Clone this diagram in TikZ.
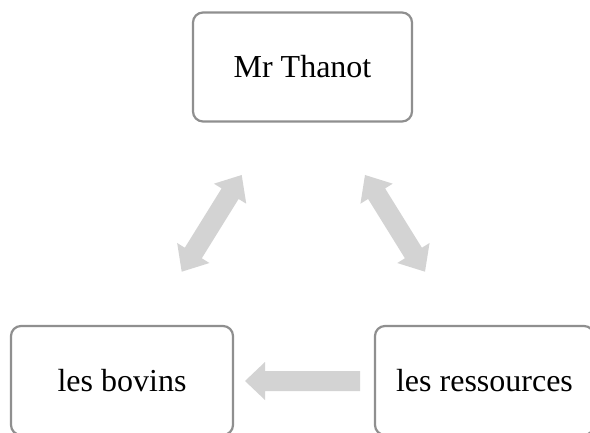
\documentclass[tikz,border=0pt]{standalone}
\usepackage{fontspec}
\setmainfont{Liberation Serif}
\usetikzlibrary{calc}
\definecolor{boxline}{HTML}{8F8F8F}
\definecolor{arrowgray}{HTML}{D3D3D3}
\tikzset{
  box/.style={draw=boxline, line width=2.2pt, rounded corners=10pt, fill=white,
    minimum width=219pt, minimum height=109pt, inner sep=0pt,
    font=\fontsize{32}{36}\selectfont},
  arrowfill/.style={fill=arrowgray, draw=none}
}
\newcommand{\fatdouble}[2]{%
  \fill[arrowfill] (#1)
    -- ($(#1)!22pt!(#2)!19pt!90:(#2)$)
    -- ($(#1)!22pt!(#2)!10pt!90:(#2)$)
    -- ($(#2)!22pt!(#1)!10pt!-90:(#1)$)
    -- ($(#2)!22pt!(#1)!19pt!-90:(#1)$)
    -- (#2)
    -- ($(#2)!22pt!(#1)!19pt!90:(#1)$)
    -- ($(#2)!22pt!(#1)!10pt!90:(#1)$)
    -- ($(#1)!22pt!(#2)!10pt!-90:(#2)$)
    -- ($(#1)!22pt!(#2)!19pt!-90:(#2)$)
    -- cycle;}
\newcommand{\fatsingle}[2]{% from tail #1 to tip #2
  \fill[arrowfill] ($(#1)!10pt!90:(#2)$)
    -- ($(#2)!20pt!(#1)!10pt!-90:(#1)$)
    -- ($(#2)!20pt!(#1)!19pt!-90:(#1)$)
    -- (#2)
    -- ($(#2)!20pt!(#1)!19pt!90:(#1)$)
    -- ($(#2)!20pt!(#1)!10pt!90:(#1)$)
    -- ($(#1)!10pt!-90:(#2)$)
    -- cycle;}
\begin{document}
\begin{tikzpicture}[x=1pt,y=1pt]
  \useasboundingbox (0,0) rectangle (590,432);
  \clip (0,0) rectangle (590,432);
  \node[box] (top) at (302.5,365) {Mr Thanot};
  \node[box, minimum width=222pt] (bov) at (122,51.5) {les bovins};
  \node[box] (res) at (484.5,51.5) {les ressources};
  % arrow end points
  \coordinate (l1) at (181.7,160.3);
  \coordinate (l2) at (241.7,257);
  \coordinate (r1) at (365,257);
  \coordinate (r2) at (425,160.3);
  \coordinate (htail) at (360,51);
  \coordinate (htip) at (245,51);
  \fatdouble{l1}{l2}
  \fatdouble{r1}{r2}
  \fatsingle{htail}{htip}
\end{tikzpicture}
\end{document}
